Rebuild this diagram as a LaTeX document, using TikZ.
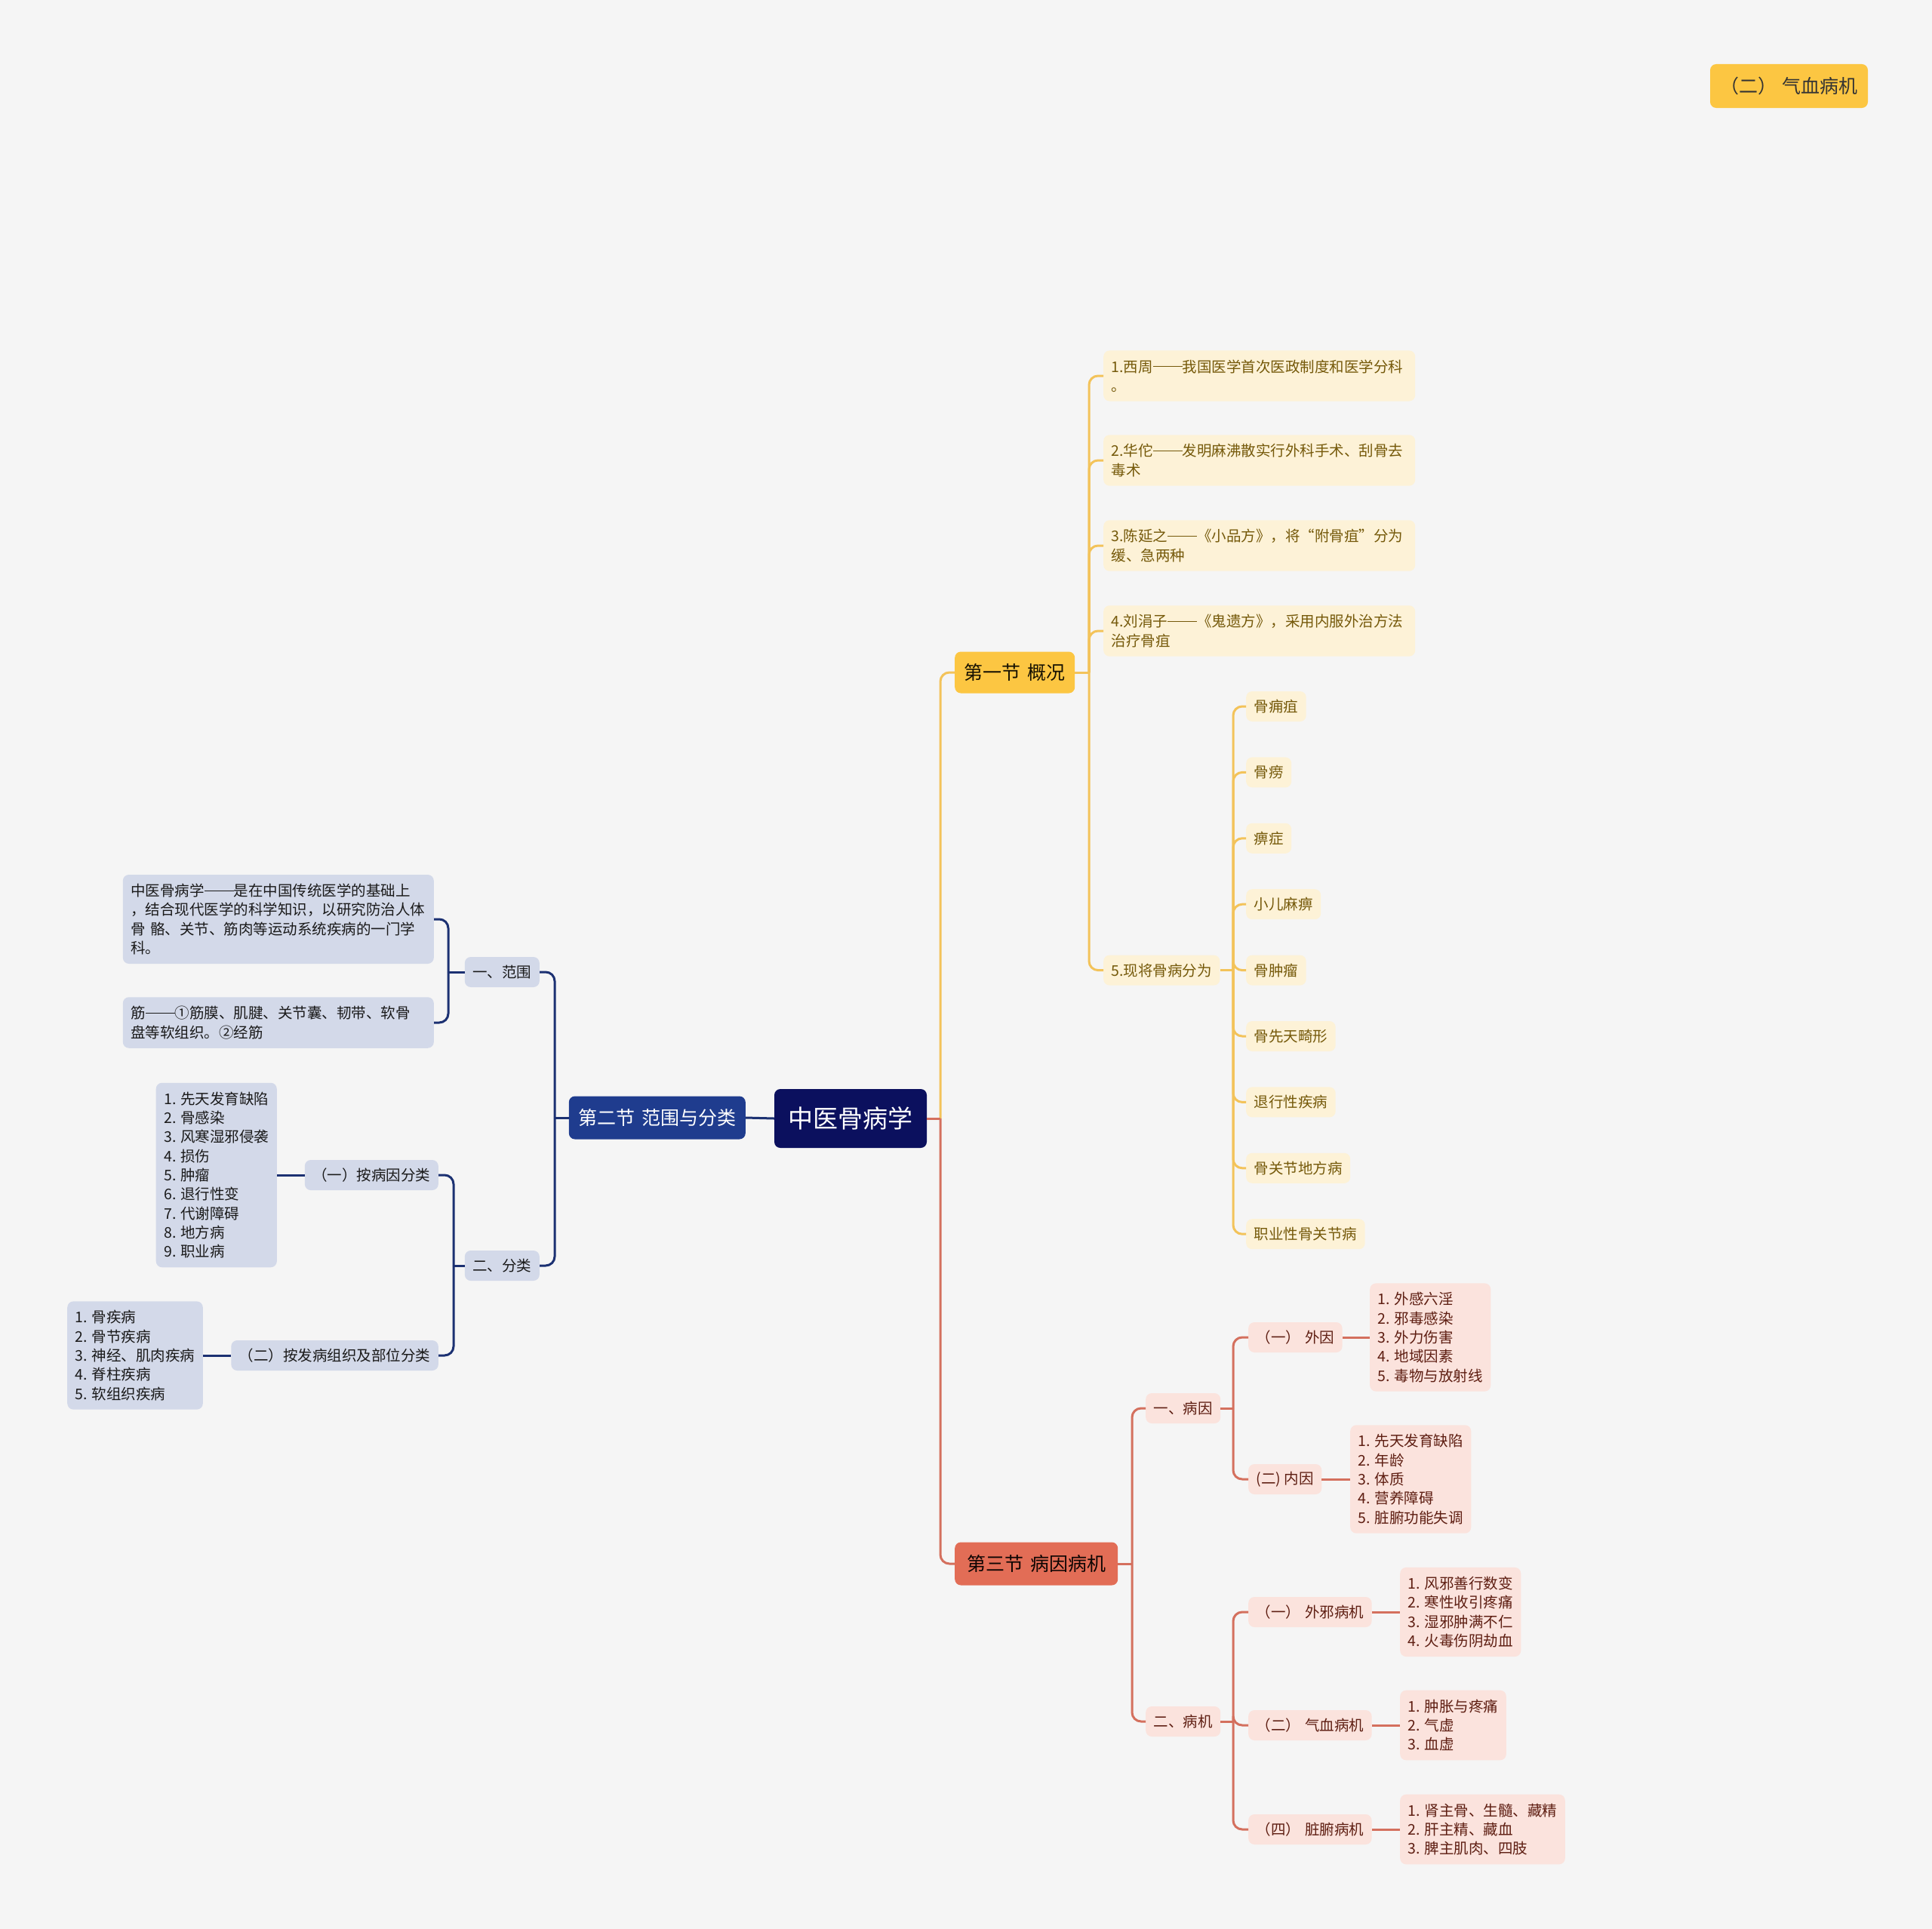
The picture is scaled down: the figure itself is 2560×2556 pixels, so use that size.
\documentclass[tikz,border=0pt]{standalone}
\usepackage{fontspec}
\newfontfamily\cjk{Noto Sans CJK SC}
\newcommand\cdash{\rule[0.34em]{2em}{0.07em}}
\definecolor{bgc}{HTML}{F5F5F5}
\definecolor{rootc}{HTML}{0B105E}
\definecolor{ysec}{HTML}{FCC642}
\definecolor{rsec}{HTML}{E26D56}
\definecolor{bsec}{HTML}{1F3C8E}
\definecolor{yfill}{HTML}{FDF2D7}
\definecolor{rfill}{HTML}{FBE3DD}
\definecolor{bfill}{HTML}{D3D9E9}
\definecolor{ytext}{HTML}{75590A}
\definecolor{rtext}{HTML}{5E1E12}
\definecolor{btext}{HTML}{1A1A1A}
\definecolor{ylinec}{HTML}{F3C35A}
\definecolor{rlinec}{HTML}{D4705E}
\definecolor{blinec}{HTML}{1C3172}
\begin{document}
\begin{tikzpicture}[x=1pt,y=-1pt,
  basebox/.style={rounded corners=8pt, inner xsep=10.5pt, inner ysep=12pt, align=left,
    font=\cjk\fontsize{19.5}{25.3}\selectfont},
  onebox/.style={basebox, inner ysep=8pt, minimum height=40pt},
  ybox/.style={fill=yfill, text=ytext},
  rbox/.style={fill=rfill, text=rtext},
  bbox/.style={fill=bfill, text=btext},
  secbox/.style={rounded corners=8pt, inner sep=0pt, align=center,
    font=\cjk\fontsize{25}{30}\selectfont},
  yl/.style={draw=ylinec, line width=3pt, rounded corners=12pt},
  rl/.style={draw=rlinec, line width=3pt, rounded corners=12pt},
  bl/.style={draw=blinec, line width=3pt, rounded corners=12pt}
]
\useasboundingbox (0,0) rectangle (2560,2556);
\fill[bgc] (0,0) rectangle (2560,2556);

% root and sections
\node[secbox, fill=rootc, text=white, minimum width=202pt, minimum height=78pt,
  font=\cjk\fontsize{33}{38}\selectfont] (root) at (1127,1482) {中医骨病学};
\node[secbox, fill=ysec, text=black!80!ytext, minimum width=159pt, minimum height=55pt, anchor=west]
  (s1) at (1265,891) {第一节\hspace{0.35em}概况};
\node[secbox, fill=bsec, text=white, minimum width=234pt, minimum height=57pt, anchor=east]
  (s2) at (988,1481) {第二节\hspace{0.35em}范围与分类};
\node[secbox, fill=rsec, text=black!85!rtext, minimum width=216pt, minimum height=57pt, anchor=west]
  (s3) at (1265,2072) {第三节\hspace{0.35em}病因病机};
\node[secbox, fill=ysec, text=black!80, minimum width=209pt, minimum height=58pt]
  (tr) at (2370.5,114) {（二）\hspace{0.3em}气血病机};

% yellow branch
\node[basebox, ybox, anchor=west, text width=392pt] (y1) at (1462,498)
  {1.西周\cdash 我国医学首次医政制度和医学分科\\。};
\node[basebox, ybox, anchor=west, text width=392pt] (y2) at (1462,610)
  {2.华佗\cdash 发明麻沸散实行外科手术、刮骨去\\毒术};
\node[basebox, ybox, anchor=west, text width=392pt] (y3) at (1462,723)
  {3.陈延之\cdash《小品方》，将“附骨疽”分为\\缓、急两种};
\node[basebox, ybox, anchor=west, text width=392pt] (y4) at (1462,836)
  {4.刘涓子\cdash《鬼遗方》，采用内服外治方法\\治疗骨疽};
\node[onebox, ybox, anchor=west] (y5) at (1462,1285.6) {5.现将骨病分为};

\node[onebox, ybox, anchor=west] (c1) at (1651,936) {骨痈疽};
\node[onebox, ybox, anchor=west] (c2) at (1651,1023.4) {骨痨};
\node[onebox, ybox, anchor=west] (c3) at (1651,1110.8) {痹症};
\node[onebox, ybox, anchor=west] (c4) at (1651,1198.2) {小儿麻痹};
\node[onebox, ybox, anchor=west] (c5) at (1651,1285.6) {骨肿瘤};
\node[onebox, ybox, anchor=west] (c6) at (1651,1373) {骨先天畸形};
\node[onebox, ybox, anchor=west] (c7) at (1651,1460.4) {退行性疾病};
\node[onebox, ybox, anchor=west] (c8) at (1651,1547.8) {骨关节地方病};
\node[onebox, ybox, anchor=west] (c9) at (1651,1635.2) {职业性骨关节病};

% red branch
\node[onebox, rbox, anchor=west] (r1) at (1518,1866) {一、病因};
\node[onebox, rbox, anchor=west] (r11) at (1654,1772) {（一）\hspace{0.3em}外因};
\node[basebox, rbox, anchor=west] (r11L) at (1815,1772)
  {1. 外感六淫\\2. 邪毒感染\\3. 外力伤害\\4. 地域因素\\5. 毒物与放射线};
\node[onebox, rbox, anchor=west] (r12) at (1654,1960) {(二) 内因};
\node[basebox, rbox, anchor=west] (r12L) at (1789,1960)
  {1. 先天发育缺陷\\2. 年龄\\3. 体质\\4. 营养障碍\\5. 脏腑功能失调};
\node[onebox, rbox, anchor=west] (r2) at (1518,2281) {二、病机};
\node[onebox, rbox, anchor=west] (r21) at (1654,2136) {（一）\hspace{0.3em}外邪病机};
\node[basebox, rbox, anchor=west] (r21L) at (1855,2136)
  {1. 风邪善行数变\\2. 寒性收引疼痛\\3. 湿邪肿满不仁\\4. 火毒伤阴劫血};
\node[onebox, rbox, anchor=west] (r22) at (1654,2286) {（二）\hspace{0.3em}气血病机};
\node[basebox, rbox, anchor=west] (r22L) at (1855,2286)
  {1. 肿胀与疼痛\\2. 气虚\\3. 血虚};
\node[onebox, rbox, anchor=west] (r23) at (1654,2424) {（四）\hspace{0.3em}脏腑病机};
\node[basebox, rbox, anchor=west] (r23L) at (1855,2424)
  {1. 肾主骨、生髓、藏精\\2. 肝主精、藏血\\3. 脾主肌肉、四肢};

% blue branch
\node[onebox, bbox, anchor=east] (b1) at (715,1288) {一、范围};
\node[basebox, bbox, anchor=east, text width=391pt] (b11) at (575,1218)
  {中医骨病学\cdash 是在中国传统医学的基础上\\，结合现代医学的科学知识，以研究防治人体\\骨 骼、关节、筋肉等运动系统疾病的一门学\\科。};
\node[basebox, bbox, anchor=east, text width=391pt] (b12) at (575,1355)
  {筋\cdash ①筋膜、肌腱、关节囊、韧带、软骨\\盘等软组织。②经筋};
\node[onebox, bbox, anchor=east] (b2) at (715,1677) {二、分类};
\node[onebox, bbox, anchor=east] (b21) at (581,1557) {（一）按病因分类};
\node[basebox, bbox, anchor=east] (b21L) at (367,1557)
  {1. 先天发育缺陷\\2. 骨感染\\3. 风寒湿邪侵袭\\4. 损伤\\5. 肿瘤\\6. 退行性变\\7. 代谢障碍\\8. 地方病\\9. 职业病};
\node[onebox, bbox, anchor=east] (b22) at (581,1796) {（二）按发病组织及部位分类};
\node[basebox, bbox, anchor=east] (b22L) at (269,1796)
  {1. 骨疾病\\2. 骨节疾病\\3. 神经、肌肉疾病\\4. 脊柱疾病\\5. 软组织疾病};

% junction coordinates
\coordinate (jR) at (1246,1482);
\coordinate (jY) at (1443,891);
\coordinate (jY5) at (1634,1285.6);
\coordinate (jS3) at (1500,2072);
\coordinate (jR1) at (1634,1866);
\coordinate (jR2) at (1634,2281);
\coordinate (jB) at (735,1481);
\coordinate (jB1) at (594,1288);
\coordinate (jB2) at (601,1677);

% connectors: root to sections
\draw[yl] (jR) |- (s1.west);
\draw[rl] (root.east) -- (jR);
\draw[rl] (jR) |- (s3.west);
\draw[bl] (root.west) -- (s2.east);

% yellow
\draw[yl] (s1.east) -- (jY);
\foreach \n in {y1,y2,y3,y4,y5} \draw[yl] (jY) |- (\n.west);
\draw[yl] (y5.east) -- (jY5);
\foreach \n in {c1,c2,c3,c4,c5,c6,c7,c8,c9} \draw[yl] (jY5) |- (\n.west);

% red
\draw[rl] (s3.east) -- (jS3);
\draw[rl] (jS3) |- (r1.west);
\draw[rl] (jS3) |- (r2.west);
\draw[rl] (r1.east) -- (jR1);
\draw[rl] (jR1) |- (r11.west);
\draw[rl] (jR1) |- (r12.west);
\draw[rl] (r11.east) -- (r11L.west);
\draw[rl] (r12.east) -- (r12L.west);
\draw[rl] (r2.east) -- (jR2);
\foreach \n in {r21,r22,r23} \draw[rl] (jR2) |- (\n.west);
\draw[rl] (r21.east) -- (r21L.west);
\draw[rl] (r22.east) -- (r22L.west);
\draw[rl] (r23.east) -- (r23L.west);

% blue
\draw[bl] (s2.west) -- (jB);
\draw[bl] (jB) |- (b1.east);
\draw[bl] (jB) |- (b2.east);
\draw[bl] (b1.west) -- (jB1);
\draw[bl] (jB1) |- (b11.east);
\draw[bl] (jB1) |- (b12.east);
\draw[bl] (b2.west) -- (jB2);
\draw[bl] (jB2) |- (b21.east);
\draw[bl] (jB2) |- (b22.east);
\draw[bl] (b21.west) -- (b21L.east);
\draw[bl] (b22.west) -- (b22L.east);
\end{tikzpicture}
\end{document}
